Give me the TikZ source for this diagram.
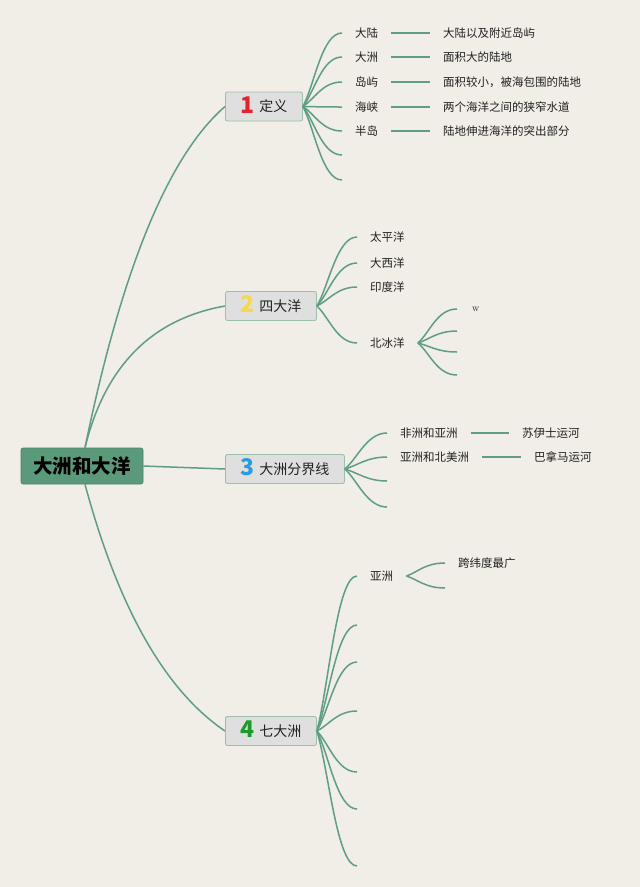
\documentclass[tikz,border=0pt]{standalone}
\usepackage{fontspec}
\newfontfamily\cjk{Noto Sans CJK SC}
\usetikzlibrary{calc}
\definecolor{bg}{HTML}{F1EDE7}
\definecolor{ln}{HTML}{5E9E84}
\definecolor{rootfill}{HTML}{5A9A7B}
\definecolor{boxfill}{HTML}{DEDFDE}
\definecolor{boxline}{HTML}{9DC0AC}
\definecolor{nred}{HTML}{E3212F}
\definecolor{nyellow}{HTML}{F6D84A}
\definecolor{nblue}{HTML}{2B9BE2}
\definecolor{ngreen}{HTML}{1E9A2C}
\definecolor{txt}{HTML}{222222}
\newcommand\topicnum[2]{\raisebox{-1.5pt}{\cjk\bfseries\fontsize{23}{23}\selectfont\color{#1}#2}\hspace{5pt}}
\begin{document}
\begin{tikzpicture}[x=1pt,y=-1pt,
 rootbox/.style={fill=rootfill, draw=rootfill!85!black, line width=0.6pt, rounded corners=2pt, minimum width=122pt, minimum height=36pt, inner sep=0pt, font=\cjk\bfseries\fontsize{19.5}{20}\selectfont, text=black},
 topic/.style={fill=boxfill, draw=boxline, line width=0.9pt, rounded corners=2pt, minimum height=29pt, inner xsep=15pt, inner ysep=0pt, text height=12.5pt, text depth=2pt, anchor=west, font=\cjk\fontsize{14}{16}\selectfont, text=txt},
 leaf/.style={anchor=west, inner xsep=13pt, inner ysep=2pt, font=\cjk\fontsize{11.5}{13}\selectfont, text=txt},
 conn/.style={draw=ln, line width=1.5pt},
 fan/.style={to path={.. controls ($(\tikztostart)!0.3!(\tikztotarget)$) and ($(\tikztotarget)+(-20,0)$) .. (\tikztotarget)}},
]
\fill[bg] (0,0) rectangle (640,887);
\useasboundingbox (0,0) rectangle (640,887);

% root
\node[rootbox] (root) at (82,466) {大洲和大洋};

% topics
\node[topic] (b1) at (225,106.5) {\topicnum{nred}{1}定义};
\node[topic] (b2) at (225,306) {\topicnum{nyellow}{2}四大洋};
\node[topic] (b3) at (225,469) {\topicnum{nblue}{3}大洲分界线};
\node[topic] (b4) at (225,731) {\topicnum{ngreen}{4}七大洲};

% root connectors
\draw[conn] ([xshift=3pt]root.north) .. controls (121.7,269.3) and (168.3,155.7) .. (b1.west);
\draw[conn] ([xshift=3pt]root.north) .. controls (105,366) and (151.7,319) .. (b2.west);
\draw[conn] (root.east) -- (b3.west);
\draw[conn] ([xshift=3pt]root.south) .. controls (118.3,608) and (165,690.3) .. (b4.west);

% branch 1
\node[leaf] (c11) at (342,33) {大陆};
\node[leaf] (c12) at (342,57) {大洲};
\node[leaf] (c13) at (342,82) {岛屿};
\node[leaf] (c14) at (342,107) {海峡};
\node[leaf] (c15) at (342,131) {半岛};
\coordinate (c16) at (342,155);
\coordinate (c17) at (342,180);
\node[leaf] (d11) at (430,33) {大陆以及附近岛屿};
\node[leaf] (d12) at (430,57) {面积大的陆地};
\node[leaf] (d13) at (430,82) {面积较小，被海包围的陆地};
\node[leaf] (d14) at (430,107) {两个海洋之间的狭窄水道};
\node[leaf] (d15) at (430,131) {陆地伸进海洋的突出部分};
\foreach \i in {1,...,5} {
  \draw[conn] (b1.east) to[fan] (c1\i.west);
  \draw[conn] (c1\i.east) -- (d1\i.west);
}
\draw[conn] (b1.east) to[fan] (c16);
\draw[conn] (b1.east) to[fan] (c17);

% branch 2
\node[leaf] (c21) at (357,237) {太平洋};
\node[leaf] (c22) at (357,263) {大西洋};
\node[leaf] (c23) at (357,287) {印度洋};
\node[leaf] (c24) at (357,343) {北冰洋};
\foreach \i in {1,...,4} {
  \draw[conn] (b2.east) to[fan] (c2\i.west);
}
\node[leaf, inner xsep=15pt, font=\fontsize{10}{11}\selectfont] (w1) at (457,309) {w};
\coordinate (w2) at (457,331);
\coordinate (w3) at (457,352);
\coordinate (w4) at (457,375);
\draw[conn] (c24.east) to[fan] (w1.west);
\draw[conn] (c24.east) to[fan] (w2);
\draw[conn] (c24.east) to[fan] (w3);
\draw[conn] (c24.east) to[fan] (w4);

% branch 3
\node[leaf] (c31) at (387,433) {非洲和亚洲};
\node[leaf] (c32) at (387,457) {亚洲和北美洲};
\coordinate (c33) at (387,481);
\coordinate (c34) at (387,507);
\node[leaf] (d31) at (509,433) {苏伊士运河};
\node[leaf] (d32) at (521,457) {巴拿马运河};
\draw[conn] (b3.east) to[fan] (c31.west);
\draw[conn] (b3.east) to[fan] (c32.west);
\draw[conn] (b3.east) to[fan] (c33);
\draw[conn] (b3.east) to[fan] (c34);
\draw[conn] (c31.east) -- (d31.west);
\draw[conn] (c32.east) -- (d32.west);

% branch 4
\node[leaf] (c41) at (357,576) {亚洲};
\coordinate (c42) at (357,625);
\coordinate (c43) at (357,662);
\coordinate (c44) at (357,711);
\coordinate (c45) at (357,772);
\coordinate (c46) at (357,809);
\coordinate (c47) at (357,866);
\draw[conn] (b4.east) to[fan] (c41.west);
\foreach \i in {2,...,7} {
  \draw[conn] (b4.east) to[fan] (c4\i);
}
\node[leaf] (e41) at (445,563) {跨纬度最广};
\coordinate (e42) at (445,588);
\draw[conn] (c41.east) to[fan] (e41.west);
\draw[conn] (c41.east) to[fan] (e42);
\end{tikzpicture}
\end{document}
